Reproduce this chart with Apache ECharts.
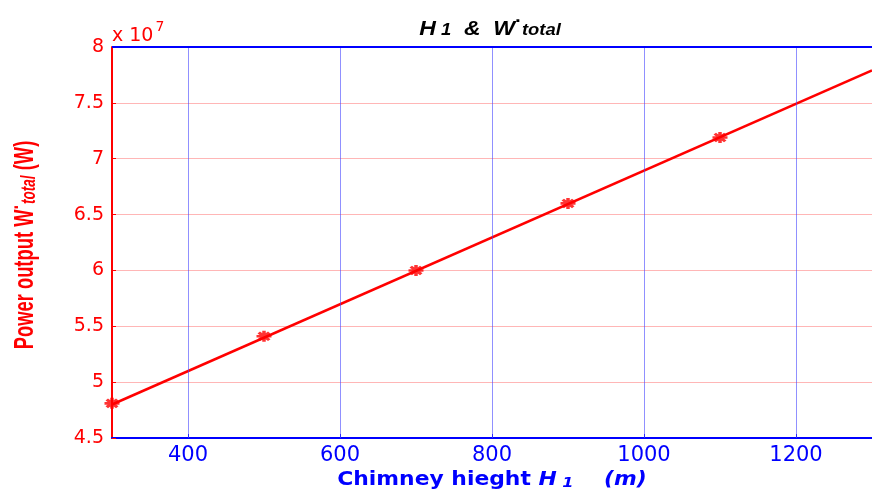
<!DOCTYPE html>
<html>
<head>
<meta charset="utf-8">
<script src="https://cdn.jsdelivr.net/npm/echarts@6/dist/echarts.min.js"></script>
<style>
  html, body { margin: 0; padding: 0; background: #fff; }
  #chart { width: 872px; height: 494px; }
</style>
</head>
<body>
<div id="chart"></div>
<script>
// Chimney height H1 (m) against total power output (W)
const heights = [300, 500, 700, 900, 1100];
const powerOutput = [4.81e7, 5.41e7, 6.00e7, 6.60e7, 7.19e7];
// fitted line spanning the whole axis range
const fitHeights = [300, 1300];
const fitPower = [4.80e7, 7.79e7];
const xTicks = [400, 600, 800, 1000, 1200];
const yTicks = [4.5, 5, 5.5, 6, 6.5, 7, 7.5, 8];

const RED = '#ff0000';
const BLUE = '#0000ff';
const FONT = '"Liberation Sans", Arial, sans-serif';
const WIDE = '"DejaVu Sans", "Liberation Sans", sans-serif';

const GRID = { left: 112, top: 47, width: 762, height: 391 };

// asterisk-like marker
const starPath = 'path://M0,-10L0,10M-10,0L10,0M-7,-7L7,7M-7,7L7,-7';

const chart = echarts.init(document.getElementById('chart'), null, { renderer: 'canvas' });

chart.setOption({
  animation: false,
  backgroundColor: '#fff',
  grid: Object.assign({ containLabel: false }, GRID),
  xAxis: {
    type: 'value',
    min: 300,
    max: 1300,
    interval: 100,
    axisLine: { show: true, onZero: false, lineStyle: { color: BLUE, width: 2 } },
    axisTick: { show: true, inside: true, length: 4, customValues: xTicks, lineStyle: { color: BLUE, width: 1 } },
    axisLabel: {
      color: BLUE, fontFamily: WIDE, fontSize: 21, margin: 7,
      customValues: xTicks,
      formatter: v => (xTicks.indexOf(v) >= 0 ? String(v) : '')
    },
    splitLine: { show: false }
  },
  yAxis: {
    type: 'value',
    min: 4.5e7,
    max: 8e7,
    interval: 0.5e7,
    axisLine: { show: true, onZero: false, lineStyle: { color: RED, width: 2 } },
    axisTick: { show: true, inside: true, length: 4, lineStyle: { color: RED, width: 1 } },
    axisLabel: {
      color: RED, fontFamily: WIDE, fontSize: 19, margin: 8,
      formatter: v => {
        const t = Math.round(v / 1e6) / 10;
        return yTicks.indexOf(t) >= 0 ? String(t) : '';
      }
    },
    splitLine: { show: true, lineStyle: { color: 'rgba(255,110,110,0.5)', width: 1 } }
  },
  graphic: [
    // top frame edge
    {
      type: 'line',
      shape: { x1: GRID.left, y1: GRID.top, x2: GRID.left + GRID.width, y2: GRID.top },
      style: { stroke: BLUE, lineWidth: 2 },
      z: 10
    },
    // exponent note
    {
      type: 'text',
      x: 112,
      y: 20,
      style: {
        text: '{a|x 10}{p|7}',
        rich: {
          a: { fontFamily: WIDE, fontSize: 19, fill: RED, verticalAlign: 'bottom' },
          p: { fontFamily: WIDE, fontSize: 14, fill: RED, padding: [0, 0, 12, 2], verticalAlign: 'bottom' }
        }
      }
    },
    // title
    {
      type: 'text',
      x: 490,
      y: 26,
      scaleX: 1.15,
      style: {
        text: '{b|H}{sb| 1}{b|  &  W}{sp|·}{sb|total}',
        align: 'center',
        verticalAlign: 'middle',
        rich: {
          b: { fontFamily: FONT, fontSize: 20, fontWeight: 'bold', fontStyle: 'italic', fill: '#000', verticalAlign: 'bottom' },
          sb: { fontFamily: FONT, fontSize: 16, fontWeight: 'bold', fontStyle: 'italic', fill: '#000', padding: [10, 0, 0, 0], verticalAlign: 'bottom' },
          sp: { fontFamily: FONT, fontSize: 18, fontWeight: 'bold', fill: '#000', padding: [0, 0, 8, 0], verticalAlign: 'bottom' }
        }
      }
    },
    // x axis name
    {
      type: 'text',
      x: 492,
      y: 477,
      scaleX: 1.15,
      style: {
        text: '{b|Chimney hieght }{i|H}{s| 1}{i|    (m)}',
        align: 'center',
        verticalAlign: 'middle',
        rich: {
          b: { fontFamily: WIDE, fontSize: 19, fontWeight: 'bold', fill: BLUE, verticalAlign: 'bottom' },
          i: { fontFamily: WIDE, fontSize: 19, fontWeight: 'bold', fontStyle: 'italic', fill: BLUE, verticalAlign: 'bottom' },
          s: { fontFamily: WIDE, fontSize: 14, fontWeight: 'bold', fontStyle: 'italic', fill: BLUE, padding: [12, 0, 0, 0], verticalAlign: 'bottom' }
        }
      }
    },
    // y axis name (narrow, rotated)
    {
      type: 'text',
      x: 22,
      y: 245,
      rotation: Math.PI / 2,
      scaleX: 0.68,
      style: {
        text: '{b|Power output W}{sp|·}{sb|total}{b| (W)}',
        align: 'center',
        verticalAlign: 'middle',
        rich: {
          b: { fontFamily: FONT, fontSize: 27, fontWeight: 'bold', fill: RED, verticalAlign: 'bottom' },
          sb: { fontFamily: FONT, fontSize: 20, fontWeight: 'bold', fontStyle: 'italic', fill: RED, padding: [14, 0, 0, 0], verticalAlign: 'bottom' },
          sp: { fontFamily: FONT, fontSize: 24, fontWeight: 'bold', fill: RED, padding: [0, 0, 10, 0], verticalAlign: 'bottom' }
        }
      }
    }
  ],
  series: [
    {
      type: 'line',
      data: fitHeights.map((h, i) => [h, fitPower[i]]),
      symbol: 'none',
      lineStyle: { color: RED, width: 2.5 },
      z: 3,
      markLine: {
        silent: true,
        symbol: 'none',
        label: { show: false },
        animation: false,
        lineStyle: { color: 'rgba(70,70,255,0.6)', width: 1, type: 'solid' },
        data: xTicks.map(v => ({ xAxis: v }))
      }
    },
    {
      type: 'scatter',
      data: heights.map((h, i) => [h, powerOutput[i]]),
      symbol: starPath,
      symbolSize: [15, 11],
      itemStyle: { color: RED, borderColor: RED, borderWidth: 3 },
      z: 4
    }
  ]
});
</script>
</body>
</html>
